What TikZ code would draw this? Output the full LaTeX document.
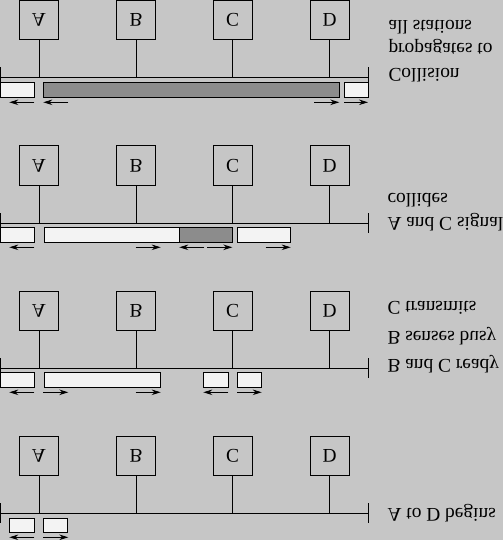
\documentclass[tikz,border=0pt]{standalone}
\usepackage{fontspec}
\setmainfont{Liberation Serif}
\usetikzlibrary{arrows.meta}
\definecolor{bggray}{RGB}{198,198,198}
\definecolor{busygray}{RGB}{140,140,140}
\definecolor{idlewhite}{RGB}{243,243,243}
\tikzset{station/.style={draw, minimum size=39pt, inner sep=0pt, yscale=-1, font=\fontsize{19.4}{23}\selectfont},
%text is mirrored top to bottom, like the whole picture
lbl/.style={yscale=-1, anchor=base west, inner sep=0pt, font=\fontsize{19.4}{23}\selectfont},
frame/.style={draw, fill=idlewhite},
jam/.style={draw, fill=busygray},
sig/.style={line width=0.9pt, -{Stealth[length=9pt,width=5.5pt]}}}

\begin{document}
\begin{tikzpicture}[x=1pt, y=-1pt, line width=1pt]
\fill[bggray] (0,0) rectangle (503,540);
\useasboundingbox (0,0) rectangle (503,540);

% bus and stations, one row per time step
\foreach \p/\by in {1/77.5, 2/223.3, 3/368.3, 4/513.3}{
  \coordinate (L\p) at (0.6,\by);
  \coordinate (R\p) at (368,\by);
  \draw (L\p) -- (R\p);
  \draw (L\p) ++(0,-10) -- ++(0,20);
  \draw (R\p) ++(0,-10) -- ++(0,20);
  \foreach \s/\x in {A/39, B/136, C/232.5, D/329.5}{
    \node[station] (\s\p) at (\x,\by-57.8) {\s};
    \draw (\s\p.north) -- (\s\p |- L\p);
  }
}

% collision propagates
\foreach \a/\b/\st in {0/34.3/frame, 43.3/339.3/jam, 344/368/frame}
  \draw[\st] (\a,82.5) rectangle (\b,97.3);
\foreach \a/\b in {34.3/9.3, 68.3/43.3, 314.3/339.3, 344/368}
  \draw[sig] (\a,102.3) -- (\b,102.3);

% signals collide
\foreach \a/\b/\st in {0/34.3/frame, 44/179.3/frame, 179.3/232.3/jam, 237/290.7/frame}
  \draw[\st] (\a,227.5) rectangle (\b,242.3);
\foreach \a/\b in {34.3/9.3, 135.7/160.7, 204.3/179.3, 207.3/232.3, 265.7/290.7}
  \draw[sig] (\a,247.3) -- (\b,247.3);

% B busy, C sends
\foreach \a/\b in {0/34.3, 44/160.7, 203.3/228.3, 237.3/261.7}
  \draw[frame] (\a,372.5) rectangle (\b,387.3);
\foreach \a/\b in {34.3/9.3, 43.3/68.3, 135.7/160.7, 228.3/203.3, 237.3/261.7}
  \draw[sig] (\a,392.3) -- (\b,392.3);

% A starts
\foreach \a/\b in {9.3/34.3, 43.3/67.7}
  \draw[frame] (\a,518.3) rectangle (\b,532.3);
\foreach \a/\b in {34.3/9.3, 43.3/68.3}
  \draw[sig] (\a,537.3) -- (\b,537.3);

%labels
\node[lbl] (t1a) at (388,20.7) {all stations};
\node[lbl] (t1b) at (388,43.8) {propagates to};
\node[lbl] (t1c) at (388,68.3) {Collision};
\node[lbl] (t2a) at (387,193.3) {collides};
\node[lbl] (t2b) at (387,217.3) {A and C signal};
\node[lbl] (t3a) at (387,301.7) {C transmits};
\node[lbl] (t3b) at (387,331.7) {B senses busy};
\node[lbl] (t3c) at (387,359) {B and C ready};
\node[lbl] (t4a) at (387,508.3) {A to D begins};

\end{tikzpicture}
\end{document}
